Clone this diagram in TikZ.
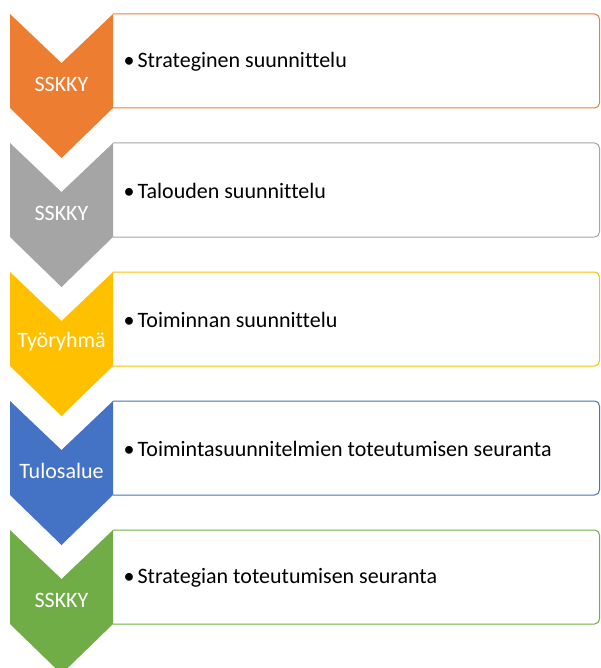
\documentclass[tikz,border=0pt]{standalone}
\usepackage{fontspec}
\setmainfont[Ligatures=NoCommon]{Carlito}
\usepackage{tikz}

\definecolor{accOrange}{HTML}{ED7D31}
\definecolor{accGray}{HTML}{A5A5A5}
\definecolor{accGold}{HTML}{FFC000}
\definecolor{accBlue}{HTML}{4472C4}
\definecolor{accGreen}{HTML}{70AD47}

\tikzset{
  steplabel/.style={text=white, font=\fontsize{22}{26}\selectfont},
  steptext/.style={anchor=west, font=\fontsize{22}{26}\selectfont, inner sep=0pt}
}

\begin{document}
\begin{tikzpicture}[x=1pt, y=-1pt]
\useasboundingbox (0,0) rectangle (601,668);
\clip (0,0) rectangle (601,668);
\foreach \y/\col/\lab/\txt [count=\i] in {14/accOrange/SSKKY/Strateginen suunnittelu,
  143/accGray/SSKKY/Talouden suunnittelu,
  272/accGold/Työryhmä/Toiminnan suunnittelu,
  401/accBlue/Tulosalue/Toimintasuunnitelmien toteutumisen seuranta,
  530/accGreen/SSKKY/Strategian toteutumisen seuranta} {
  % box on the right
  \draw[\col, fill=white, line width=1pt, rounded corners=5pt]
    (113,\y) -- (599.5,\y) -- (599.5,\y+94) -- (113,\y+94);
  % chevron
  \fill[\col] (10,\y) -- (61.5,\y+49) -- (113,\y) -- (113,\y+94) -- (61.5,\y+144) -- (10,\y+94) -- cycle;
  \node[steplabel] (lab\i) at (61.5,\y+70) {\lab};
  \node[steptext] (txt\i) at (123.5,\y+48) {\textbullet\hspace{3pt}\txt};
}
\end{tikzpicture}
\end{document}
